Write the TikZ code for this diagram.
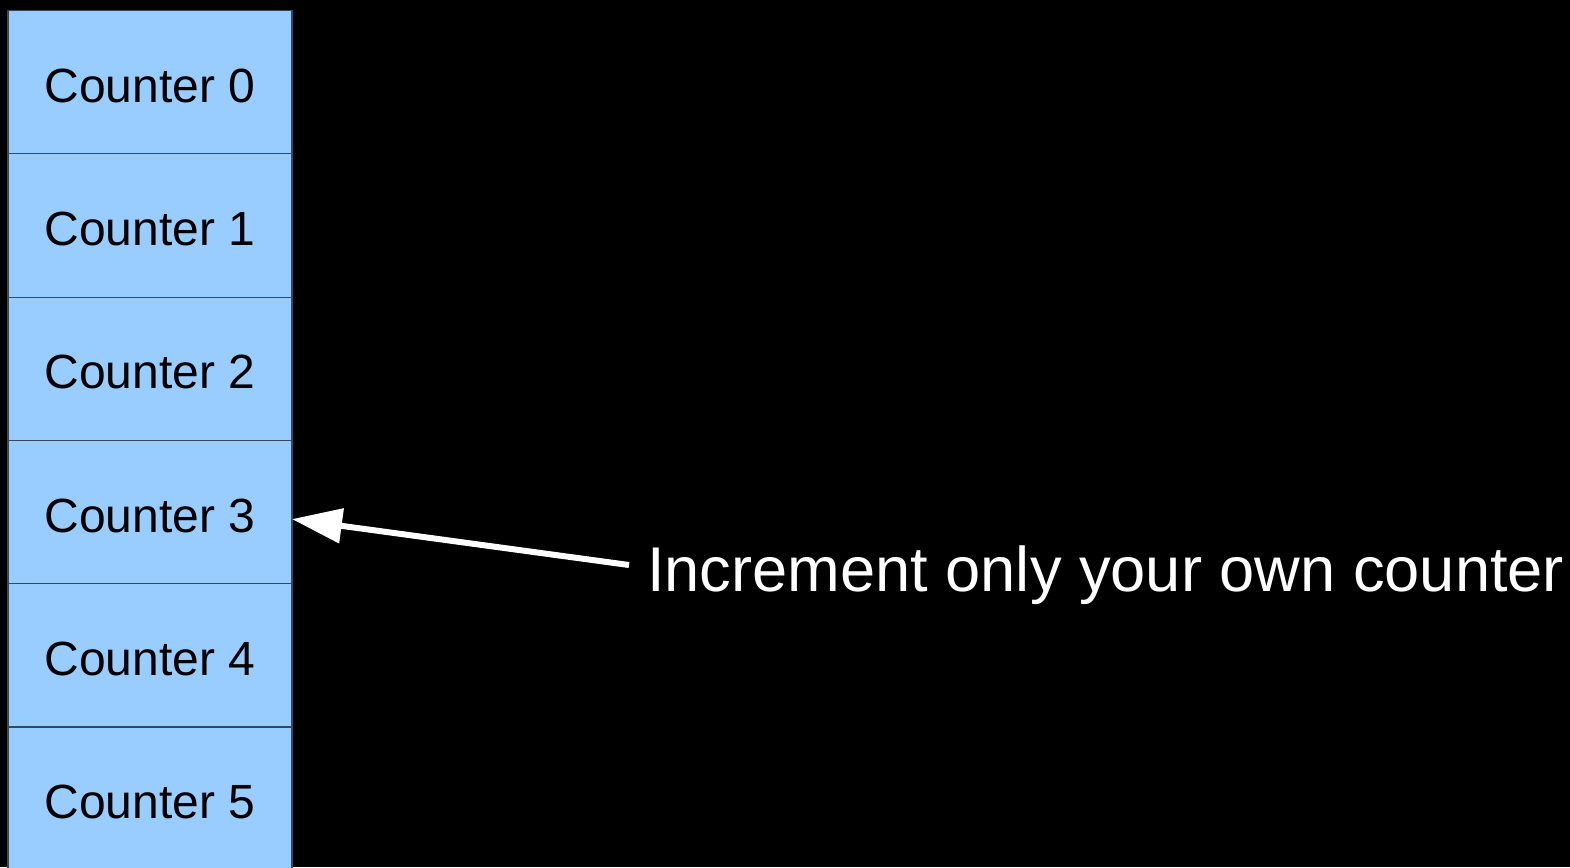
\documentclass[tikz,border=0pt]{standalone}
\usepackage{fontspec}
\setmainfont{Liberation Sans}
\usepackage{tikz}
\usetikzlibrary{arrows.meta}

\definecolor{cellblue}{HTML}{99CCFF}
\definecolor{celledge}{HTML}{34495E}

\tikzset{
  counterbox/.style={draw=celledge,line width=1.2pt,fill=cellblue,
    minimum width=284pt,minimum height=143.3pt,inner sep=0pt,outer sep=0pt,
    text height=40.5pt,font=\fontsize{48}{58}\selectfont},
  pointer/.style={draw=white,line width=6pt,
    -{Triangle[length=50pt,width=34pt]}},
}

\begin{document}
\begin{tikzpicture}[x=1pt,y=-1pt]
% Background
\fill[black] (0,0) rectangle (1570,867);
\clip (0,0) rectangle (1570,867);

% Counters
\foreach \i in {0,...,5}
  \node[counterbox] (c\i) at (150,82.2+143.3*\i) {Counter \i};

% Label
\node[anchor=base west,inner sep=0pt,text=white,
  font=\fontsize{63.2}{76}\selectfont] (msg) at (647,591)
  {Increment only your own counter};
\coordinate (tail) at (629,565);

% Arrow
\draw[pointer] (tail) -- ([yshift=-7pt]c3.east);
\end{tikzpicture}
\end{document}
